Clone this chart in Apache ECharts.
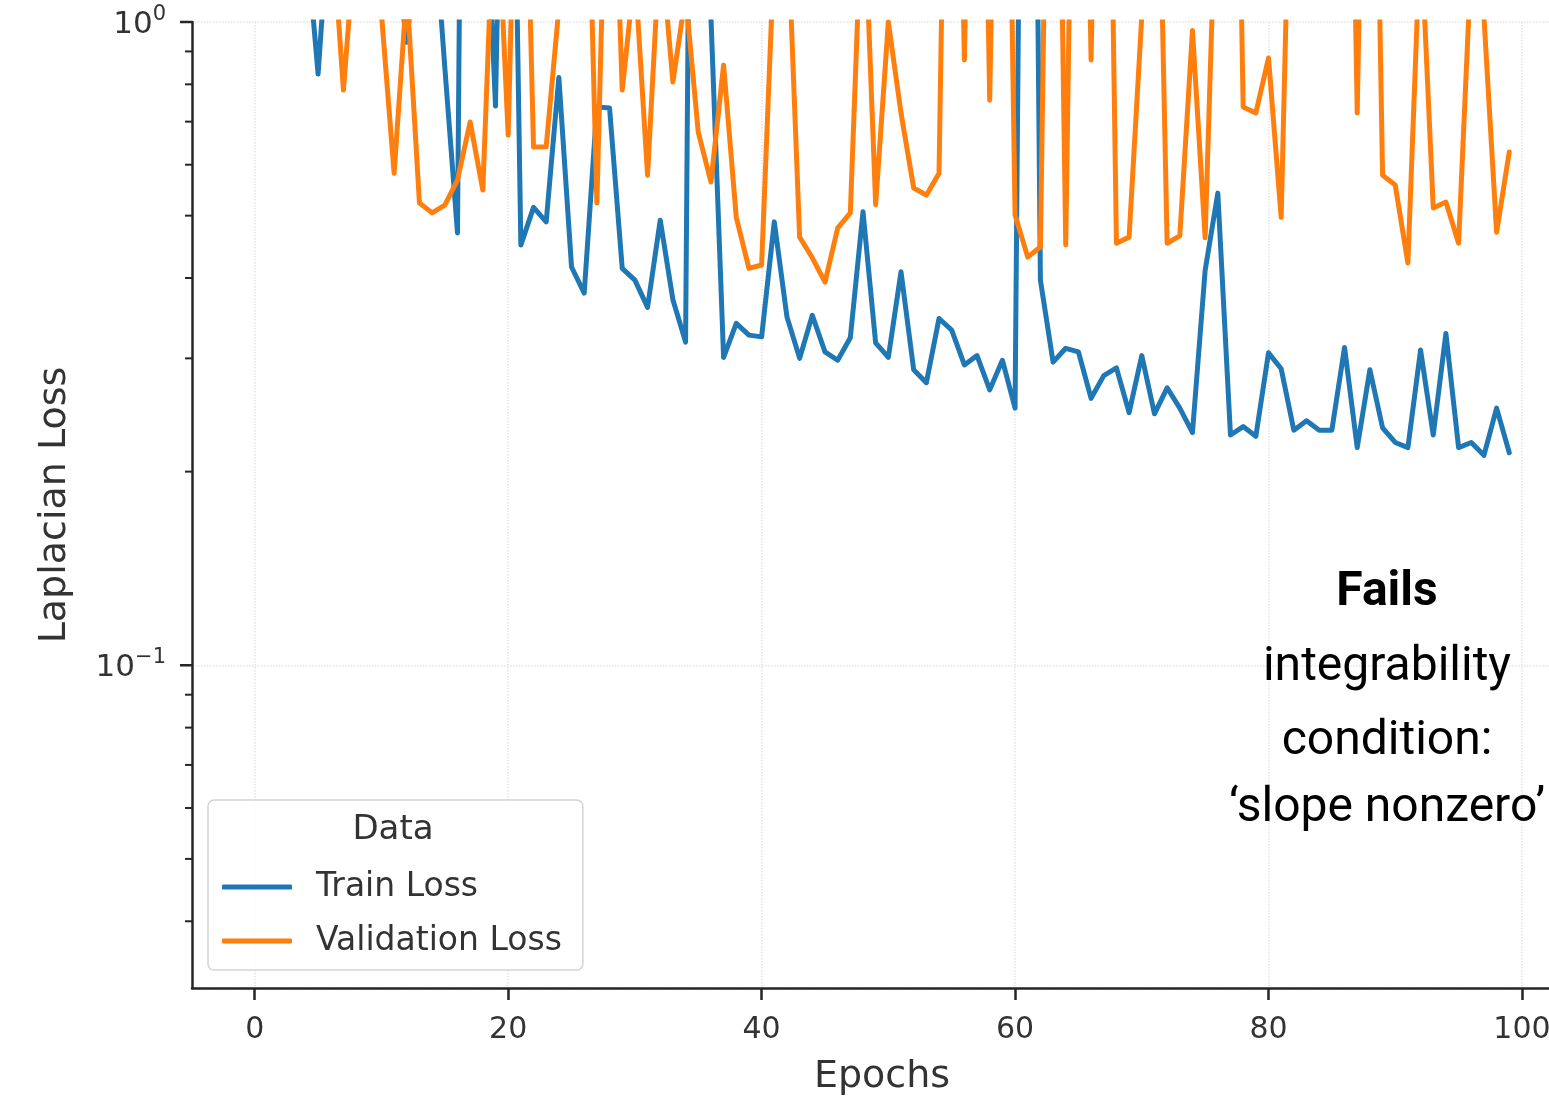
<!DOCTYPE html>
<html>
<head>
<meta charset="utf-8">
<script src="https://cdn.jsdelivr.net/npm/echarts@6/dist/echarts.min.js"></script>
<style>
  html, body { margin: 0; padding: 0; background: #ffffff; overflow: hidden; width: 1549px; height: 1110px; }
  #chart { width: 1600px; height: 1110px; }
</style>
</head>
<body>
<div id="chart"></div>
<script>
// ---- data (values above 1 lie outside the clipped frame) ----
const epochs = Array.from({ length: 100 }, (_, i) => i);

const trainLoss = [
  3.0, 3.0, 3.0, 2.0, 1.4, 0.83, 1.6, 2.0, 2.0, 2.0,
  2.0, 1.33, 0.93, 1.46, 1.58, 0.85, 0.47, 100, 2.1, 0.74,
  8.0, 0.45, 0.515, 0.489, 0.82, 0.416, 0.379, 0.738, 0.735, 0.414,
  0.397, 0.36, 0.492, 0.37, 0.318, 100, 1.02, 0.301, 0.34, 0.326,
  0.324, 0.489, 0.348, 0.30, 0.35, 0.307, 0.298, 0.323, 0.507, 0.317,
  0.301, 0.409, 0.288, 0.275, 0.346, 0.332, 0.293, 0.303, 0.268, 0.298,
  0.251, 50, 0.397, 0.296, 0.311, 0.307, 0.26, 0.282, 0.29, 0.247,
  0.303, 0.246, 0.27, 0.251, 0.23, 0.411, 0.542, 0.228, 0.235, 0.227,
  0.306, 0.289, 0.232, 0.24, 0.232, 0.232, 0.312, 0.218, 0.288, 0.234,
  0.222, 0.218, 0.309, 0.228, 0.328, 0.218, 0.222, 0.212, 0.251, 0.214
];

const validationLoss = [
  2.0, 2.0, 2.0, 2.0, 2.0, 2.0, 1.5, 0.784, 1.4, 1.6,
  1.03, 0.582, 1.12, 0.523, 0.505, 0.519, 0.568, 0.699, 0.548, 1.8,
  0.667, 4.0, 0.639, 0.64, 1.05, 2.0, 3.0, 0.523, 3.0, 0.784,
  1.2, 0.578, 1.35, 0.807, 1.1, 0.674, 0.564, 0.857, 0.497, 0.414,
  0.419, 1.3, 1.5, 0.463, 0.43, 0.394, 0.478, 0.505, 1.7, 0.52,
  1.0, 0.722, 0.552, 0.538, 0.582, 10, 0.873, 10, 0.756, 10,
  0.501, 0.431, 0.447, 10, 0.45, 10, 0.873, 10, 0.453, 0.463,
  1.02, 4.0, 0.453, 0.465, 0.97, 0.462, 2.0, 10, 0.738, 0.722,
  0.879, 0.497, 3.3, 3.0, 3.0, 3.0, 10, 0.722, 8.0, 0.578,
  0.558, 0.422, 1.4, 0.514, 0.525, 0.453, 1.25, 1.02, 0.471, 0.628
];

const xTickValues = [0, 20, 40, 60, 80, 100];
const yMajorTicks = [0.1, 1];
const yMinorTicks = [0.04, 0.05, 0.06, 0.07, 0.08, 0.09, 0.2, 0.3, 0.4, 0.5, 0.6, 0.7, 0.8, 0.9];
const seriesNames = ['Train Loss', 'Validation Loss'];
const legendTitle = 'Data';
const xAxisTitle = 'Epochs';
const yAxisTitle = 'Laplacian Loss';
const noteLines = ['Fails', 'integrability', 'condition:', '\u2018slope nonzero\u2019'];

// ---- styling constants ----
const X_MIN = -4.95, X_MAX = 103.95;
const Y_MIN = 0.0315, Y_MAX = 1;
const INK = '#262626';
const TXT = '#333333';
const FONT = '"DejaVu Sans", sans-serif';
const NOTE_FONT = 'Roboto, "DejaVu Sans", sans-serif';

const chart = echarts.init(document.getElementById('chart'), null, { renderer: 'canvas' });

function pairs(values) { return epochs.map((e, i) => [e, values[i]]); }

function logLabel(v) {
  const e = Math.round(Math.log10(v));
  const s = String(e).replace('-', '\u2212');
  return '{b|10}{s|' + s + '}';
}

function tickSeries(name, values, len, width) {
  return {
    name: name, type: 'custom', silent: true, clip: false, z: 6,
    data: values.map(v => [X_MIN, v]),
    renderItem: function (params, api) {
      const p = api.coord([api.value(0), api.value(1)]);
      return {
        type: 'line',
        shape: { x1: p[0] - len, y1: p[1], x2: p[0], y2: p[1] },
        style: { stroke: INK, lineWidth: width }
      };
    }
  };
}

const noteStyle = (text, y, bold) => ({
  type: 'text', z: 100, x: 1387, y: y,
  style: { text: text, fontSize: 48, fontWeight: bold ? 'bold' : 'normal', fontFamily: NOTE_FONT,
           fill: '#000', textAlign: 'center', textVerticalAlign: 'middle' }
});

const option = {
  animation: false,
  backgroundColor: '#ffffff',
  grid: { left: 192, width: 1380, top: 22, bottom: 122, containLabel: false },
  xAxis: {
    type: 'value',
    min: X_MIN, max: X_MAX,
    name: xAxisTitle,
    nameLocation: 'middle',
    nameGap: 70,
    nameTextStyle: { fontSize: 38, color: TXT, fontFamily: FONT },
    axisLine: { show: true, onZero: false, lineStyle: { color: INK, width: 2.5 } },
    axisTick: { show: true, customValues: xTickValues, length: 12, lineStyle: { color: INK, width: 2.5 } },
    axisLabel: { customValues: xTickValues, fontSize: 30, color: TXT, fontFamily: FONT, margin: 27 },
    splitLine: { show: true, lineStyle: { color: '#e3e3e3', width: 1.5, type: 'dotted' } }
  },
  yAxis: {
    type: 'log',
    logBase: 10,
    min: Y_MIN, max: Y_MAX,
    name: yAxisTitle,
    nameLocation: 'middle',
    nameGap: 118,
    nameRotate: 90,
    nameTextStyle: { fontSize: 38, color: TXT, fontFamily: FONT },
    axisLine: { show: true, onZero: false, lineStyle: { color: INK, width: 2.5 } },
    axisTick: { show: false },
    axisLabel: {
      showMinLabel: false,
      margin: 26,
      formatter: logLabel,
      rich: {
        b: { fontSize: 31, color: TXT, fontFamily: FONT, lineHeight: 36, verticalAlign: 'bottom' },
        s: { fontSize: 21, color: TXT, fontFamily: FONT, lineHeight: 21, verticalAlign: 'top' }
      }
    },
    splitLine: { show: true, lineStyle: { color: '#e3e3e3', width: 1.5, type: 'dotted' } }
  },
  legend: {
    data: seriesNames,
    orient: 'vertical',
    left: 208, top: 800,
    icon: 'roundRect',
    itemWidth: 70, itemHeight: 5,
    itemGap: 14,
    padding: [67, 21, 9, 14],
    selectedMode: false,
    backgroundColor: 'rgba(255,255,255,0.85)',
    borderColor: '#d4d4d4', borderWidth: 1.5, borderRadius: 6,
    textStyle: { fontSize: 33, lineHeight: 40, color: TXT, fontFamily: FONT, padding: [0, 0, 0, 19] }
  },
  graphic: [
    { type: 'text', z: 100, x: 393, y: 830,
      style: { text: legendTitle, fontSize: 34, fontFamily: FONT, fill: TXT, textAlign: 'center', textVerticalAlign: 'middle' } },
    noteStyle(noteLines[0], 593, true),
    noteStyle(noteLines[1], 668, false),
    noteStyle(noteLines[2], 742, false),
    noteStyle(noteLines[3], 809, false)
  ],
  series: [
    {
      name: seriesNames[0], type: 'line', data: pairs(trainLoss),
      showSymbol: false, clip: true, color: '#1f77b4',
      lineStyle: { width: 5, color: '#1f77b4', join: 'round', cap: 'round' }, z: 3
    },
    {
      name: seriesNames[1], type: 'line', data: pairs(validationLoss),
      showSymbol: false, clip: true, color: '#ff7f0e',
      lineStyle: { width: 5, color: '#ff7f0e', join: 'round', cap: 'round' }, z: 3
    },
    tickSeries('yMajorTicks', yMajorTicks, 12, 2.5),
    tickSeries('yMinorTicks', yMinorTicks, 7, 2)
  ]
};

chart.setOption(option);
</script>
</body>
</html>
